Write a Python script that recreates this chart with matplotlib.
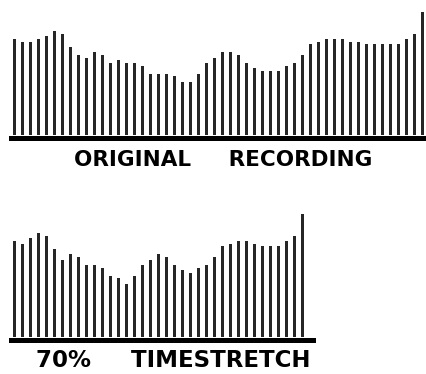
import numpy as np
import matplotlib
matplotlib.use("Agg")
import matplotlib.pyplot as plt

# bar heights (arbitrary level units)
original = [72, 70, 70, 72, 74, 78, 76, 66, 60, 58, 62, 60, 54, 56, 54, 54,
            52, 46, 46, 46, 44, 40, 40, 46, 54, 58, 62, 62, 60, 54, 50, 48,
            48, 48, 52, 54, 60, 68, 70, 72, 72, 72, 70, 70, 68, 68, 68, 68,
            68, 72, 76, 92]
stretched = [72, 70, 74, 78, 76, 66, 58, 62, 60, 54, 54, 52, 46, 44, 40, 46,
             54, 58, 62, 60, 54, 50, 48, 52, 54, 60, 68, 70, 72, 72, 70, 68,
             68, 68, 72, 76, 92]
labels = ["ORIGINAL     RECORDING", "70%     TIMESTRETCH"]

W, H = 426, 374
bar_color = "#262626"
px_unit = 4 / 3      # pixels per level unit
px_bar = 8           # pixels per bar slot
first_px = 14.7      # centre of first bar

fig = plt.figure(figsize=(W / 100, H / 100), dpi=100)


def panel(vals, left, right, base, top):
    # base: pixel row (from top) where bars start
    line_px = 5
    ax = fig.add_axes([left / W, (H - base - line_px / 2) / H,
                       (right - left) / W, (base + line_px / 2 - top) / H])
    x = np.arange(len(vals))
    ax.bar(x, vals, width=3.2 / px_bar, color=bar_color, linewidth=0)
    ax.set_xlim((left - first_px) / px_bar, (right - first_px) / px_bar)
    ax.set_ylim(-(line_px / 2) / px_unit, (base - top) / px_unit)
    for s in ["top", "left", "right"]:
        ax.spines[s].set_visible(False)
    ax.spines["bottom"].set_linewidth(line_px * 0.72)
    ax.spines["bottom"].set_color("black")
    ax.set_xticks([])
    ax.set_yticks([])
    ax.patch.set_alpha(0)
    return ax


panel(original, 11, 426, 135, 0)
panel(stretched, 11, 313, 337, 200)

fig.text(223 / W, 1 - 160 / H, labels[0], ha="center", va="center",
         fontsize=15.5, fontweight="bold", family="DejaVu Sans")
fig.text(173 / W, 1 - 360.5 / H, labels[1], ha="center", va="center",
         fontsize=16.5, fontweight="bold", family="DejaVu Sans")

fig.savefig("out.png", dpi=100)
